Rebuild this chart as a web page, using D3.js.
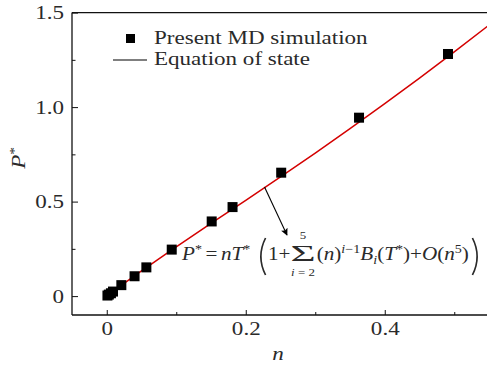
<!DOCTYPE html>
<html><head><meta charset="utf-8">
<script src="https://cdn.jsdelivr.net/npm/d3@7/dist/d3.min.js"></script>
<style>html,body{margin:0;padding:0;background:#fff;} svg{display:block;}</style>
</head><body>
<svg id="c" width="487" height="369"></svg>
<script>
// ---- data ----
const simN = [0.001, 0.003, 0.006, 0.009, 0.021, 0.040, 0.057, 0.0935, 0.151, 0.181, 0.251, 0.363, 0.491];
const simP = [0.003, 0.008, 0.015, 0.024, 0.058, 0.105, 0.152, 0.246, 0.395, 0.471, 0.653, 0.944, 1.281];
const eosN = [0, 0.05, 0.1, 0.15, 0.2, 0.25, 0.3, 0.35, 0.4, 0.45, 0.5, 0.55];
const eosP = [0, 0.133, 0.261, 0.385, 0.507, 0.631, 0.757, 0.886, 1.018, 1.153, 1.292, 1.434];
const xMajor = [0, 0.2, 0.4];
const xMinor = [0.1, 0.3, 0.5];
const yMajor = [0, 0.5, 1.0, 1.5];
const yMinor = [0.25, 0.75, 1.25];
const xLabels = ["0", "0.2", "0.4"];
const yLabels = ["0", "0.5", "1.0", "1.5"];

const FONT = "'Liberation Serif','Times New Roman',serif";
const TXT = "#2a2a2a";
const SX = 1.28; // horizontal stretch of the reference text
const svg = d3.select("#c");
const x = d3.scaleLinear().domain([-0.05, 0.55]).range([72, 489]);
const y = d3.scaleLinear().domain([-0.1, 1.5]).range([315, 12.6]);

function stretch(sel) {
  sel.each(function () {
    const t = d3.select(this);
    const tx = +t.attr("x") || 0, ty = +t.attr("y") || 0;
    t.attr("x", 0).attr("y", 0).attr("transform", `translate(${tx},${ty}) scale(${SX},1)`);
  });
}

// frame top line
svg.append("line").attr("x1", 72).attr("x2", 487).attr("y1", 12.6).attr("y2", 12.6)
  .attr("stroke", "#111").attr("stroke-width", 1.3);

// axes
const yi = d3.axisLeft(y).tickValues(yMajor).tickSize(-6).tickPadding(8)
  .tickFormat((d, i) => yLabels[i]);
const gy = svg.append("g").attr("transform", "translate(72,0)").call(yi);
const gyMin = svg.append("g").attr("transform", "translate(72,0)")
  .call(d3.axisLeft(y).tickValues(yMinor).tickSize(-3.5).tickFormat(""));
const xi = d3.axisBottom(x).tickValues(xMajor).tickSize(-5).tickPadding(8)
  .tickFormat((d, i) => xLabels[i]);
const gx = svg.append("g").attr("transform", "translate(0,315)").call(xi);
const gxMin = svg.append("g").attr("transform", "translate(0,315)")
  .call(d3.axisBottom(x).tickValues(xMinor).tickSize(-3).tickFormat(""));
[gy, gyMin, gx, gxMin].forEach(g => {
  g.select(".domain").attr("stroke", "#111").attr("stroke-width", 1.3);
  g.selectAll(".tick line").attr("stroke", "#111").attr("stroke-width", 1);
  g.selectAll("text").attr("font-family", FONT).attr("font-size", 18).attr("fill", TXT);
});
gy.select(".domain").attr("d", "M0,12.6V315");
gx.select(".domain").attr("d", "M72,0H487");
gyMin.select(".domain").remove();
gxMin.select(".domain").remove();
gy.selectAll(".tick text").attr("dy", null).attr("y", 6);
gx.selectAll(".tick text").attr("dy", null).attr("y", 20);
stretch(gy.selectAll(".tick text"));
stretch(gx.selectAll(".tick text"));

// EOS line
svg.append("path").datum(eosN.map((n, i) => [n, eosP[i]]))
  .attr("fill", "none").attr("stroke", "#d40000").attr("stroke-width", 1.5)
  .attr("d", d3.line().x(d => x(d[0])).y(d => y(d[1])).curve(d3.curveMonotoneX));

// simulation squares
const S = 10;
svg.append("g").selectAll("rect").data(simN.map((n, i) => [n, simP[i]])).join("rect")
  .attr("x", d => x(d[0]) - S / 2).attr("y", d => y(d[1]) - S / 2)
  .attr("width", S).attr("height", S).attr("fill", "#000");

// legend
svg.append("rect").attr("x", 126).attr("y", 34).attr("width", 9).attr("height", 9).attr("fill", "#000");
svg.append("line").attr("x1", 113).attr("x2", 147).attr("y1", 60).attr("y2", 60).attr("stroke", "#000").attr("stroke-width", 1.2);
const leg = svg.append("g").attr("font-family", FONT).attr("font-size", 18).attr("fill", TXT);
leg.append("text").attr("x", 154).attr("y", 44).text("Present MD simulation");
leg.append("text").attr("x", 154).attr("y", 65).text("Equation of state");
stretch(leg.selectAll("text"));

// axis titles
svg.append("text").attr("font-family", FONT).attr("font-size", 18).attr("font-style", "italic")
  .attr("fill", TXT).attr("text-anchor", "middle")
  .attr("transform", `translate(278,360) scale(${SX},1)`).text("n");
const yl = svg.append("text").attr("font-family", FONT).attr("font-size", 18).attr("fill", TXT)
  .attr("text-anchor", "middle").attr("transform", `translate(25,158) rotate(-90) scale(${SX},1)`);
yl.append("tspan").attr("font-style", "italic").text("P");
yl.append("tspan").attr("font-size", 12).attr("dy", -7).text("*");

// arrow
const defs = svg.append("defs");
defs.append("marker").attr("id", "ah").attr("viewBox", "0 0 10 10").attr("refX", 9).attr("refY", 5)
  .attr("markerWidth", 11).attr("markerHeight", 7).attr("markerUnits", "userSpaceOnUse").attr("orient", "auto")
  .append("path").attr("d", "M0,0L10,5L0,10L2,5Z").attr("fill", "#000");
svg.append("line").attr("x1", x(0.227)).attr("y1", y(0.577)).attr("x2", 287).attr("y2", 235)
  .attr("stroke", "#000").attr("stroke-width", 1.1).attr("marker-end", "url(#ah)");

// formula
const FG = svg.append("g").attr("font-family", FONT).attr("fill", TXT);
const inner = FG.append("g");
let cx = 0;
function put(str, o = {}) {
  const t = inner.append("text").attr("x", cx + (o.dx || 0)).attr("y", o.y || 0)
    .attr("font-size", o.size || 18).attr("font-style", o.it ? "italic" : "normal").text(str);
  const w = t.node().getComputedTextLength();
  cx += w + (o.dx || 0) + (o.after || 0);
  return w;
}
function bigParen(left) {
  const w = 7, top = -22, bot = 15;
  const p = left
    ? `M${cx + w},${top} Q${cx - 1},${(top + bot) / 2} ${cx + w},${bot}`
    : `M${cx},${top} Q${cx + w + 1},${(top + bot) / 2} ${cx},${bot}`;
  inner.append("path").attr("d", p).attr("fill", "none").attr("stroke", TXT).attr("stroke-width", 1.4);
  cx += w + 2;
}
put("P", { it: true });
put("*", { size: 12, y: -7, after: 3 });
put("=", { after: 3 });
put("n", { it: true });
put("T", { it: true });
put("*", { size: 12, y: -7, after: 6 });
bigParen(true);
put("1+", {});
// sum with limits (wide Σ)
const sumStart = cx;
const sig = inner.append("text").attr("font-size", 23).attr("transform", `translate(${sumStart},1) scale(1.6,1)`).text("Σ");
const ws = sig.node().getComputedTextLength() * 1.6;
cx += ws + 1;
inner.append("text").attr("font-size", 11).attr("text-anchor", "middle")
  .attr("x", sumStart + ws / 2).attr("y", -21).text("5");
const lb = inner.append("text").attr("font-size", 11).attr("text-anchor", "middle")
  .attr("x", sumStart + ws / 2).attr("y", 16);
lb.append("tspan").attr("font-style", "italic").text("i");
lb.append("tspan").text(" = 2");
put("(");
put("n", { it: true });
put(")");
put("i", { it: true, size: 12, y: -7 });
put("−1", { size: 12, y: -7 });
put("B", { it: true });
put("i", { it: true, size: 12, y: 4 });
put("(");
put("T", { it: true });
put("*", { size: 12, y: -7 });
put(")+");
put("O", { it: true });
put("(");
put("n", { it: true });
put("5", { size: 12, y: -7 });
put(")", { after: 3 });
bigParen(false);
const fsx = 301 / cx;
FG.attr("transform", `translate(182,260) scale(${fsx},1)`);
</script>
</body></html>
